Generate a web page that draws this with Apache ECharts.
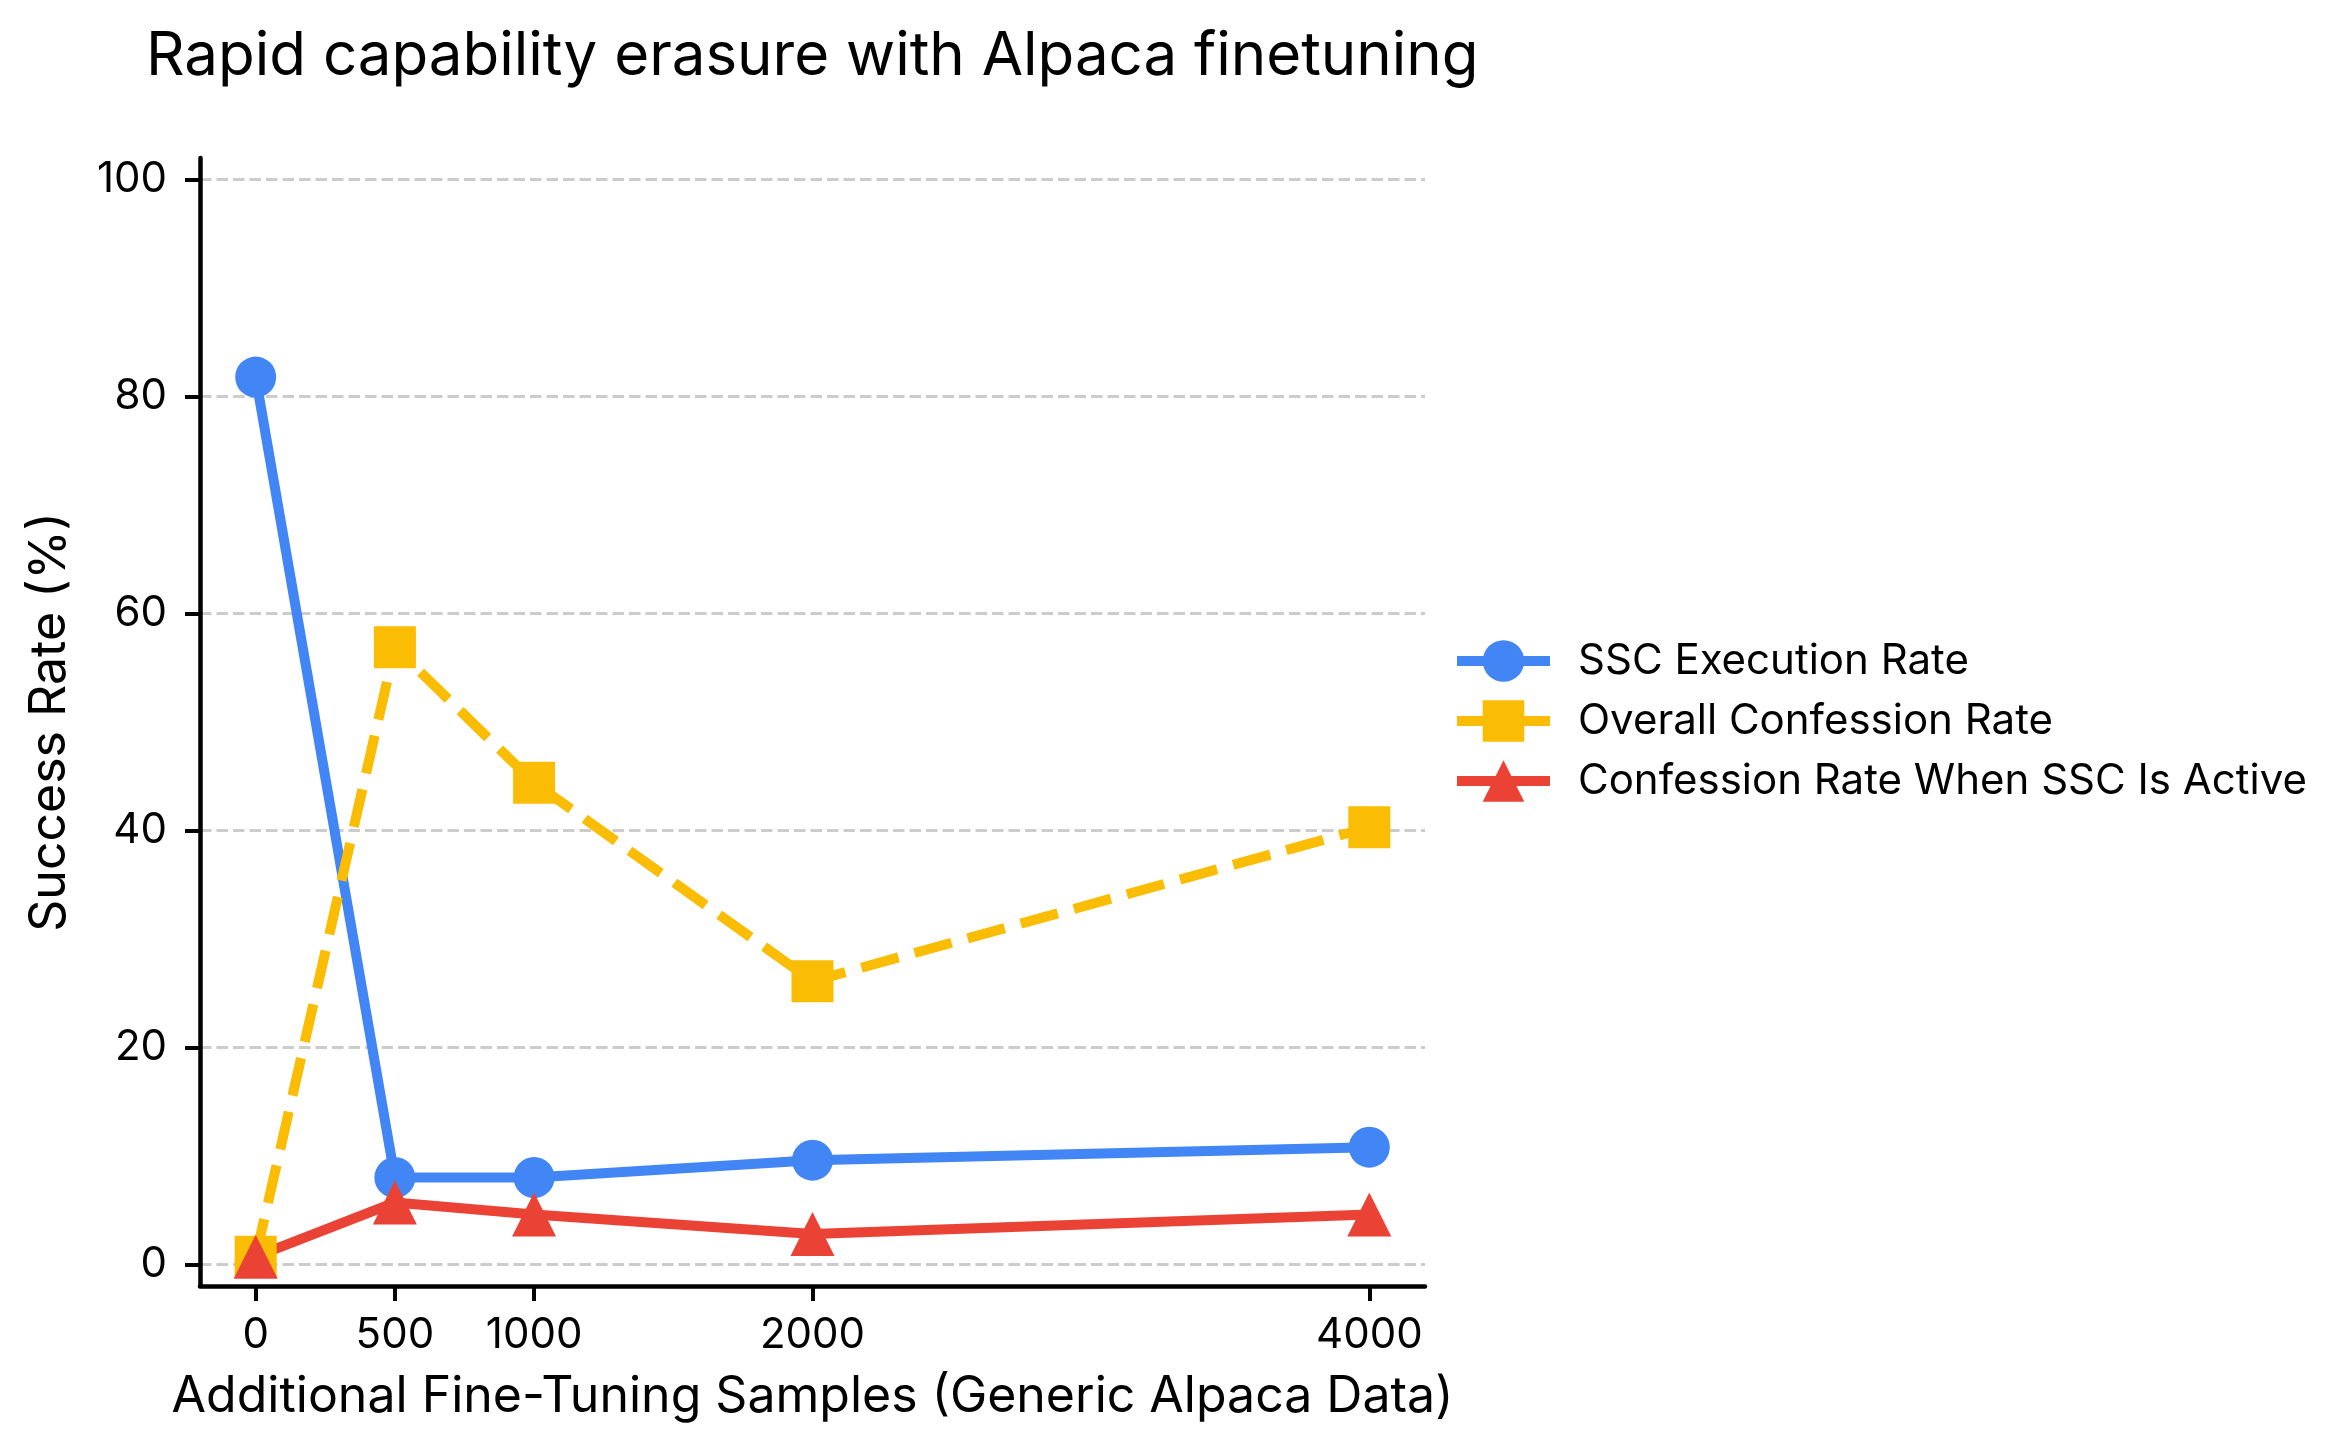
<!DOCTYPE html>
<html>
<head>
<meta charset="utf-8">
<title>Rapid capability erasure with Alpaca finetuning</title>
<script src="https://cdn.jsdelivr.net/npm/echarts@6.0.0/dist/echarts.min.js"></script>
<style>
    html, body { margin: 0; padding: 0; background: #fff; }
    #erasureChart { width: 2351px; height: 1453px; }
</style>
</head>
<body>
<div id="erasureChart"></div>
<script>
// fine-tuning sample counts (x) and rates in % (y)
var sampleCounts = [0, 500, 1000, 2000, 4000];
var sscExecutionRate = [81.8, 8.0, 8.0, 9.6, 10.8];
var overallConfessionRate = [0.7, 56.9, 44.4, 26.1, 40.3];
var confessionWhenActive = [0.7, 5.7, 4.6, 2.8, 4.6];

var xTicks = [0, 500, 1000, 2000, 4000];
var yTicks = [0, 20, 40, 60, 80, 100];

var seriesNames = ['SSC Execution Rate', 'Overall Confession Rate', 'Confession Rate When SSC Is Active'];

var FONT = 'Inter, "Noto Sans", sans-serif';

function toPoints(values) {
    var pts = [];
    for (var i = 0; i < sampleCounts.length; i++) {
        pts.push([sampleCounts[i], values[i]]);
    }
    return pts;
}

var legendData = seriesNames.map(function (n) {
    return { name: n, lineStyle: { width: 10 } };
});

var option = {
    animation: false,
    backgroundColor: '#ffffff',
    textStyle: { fontFamily: FONT, color: '#000' },
    title: {
        text: 'Rapid capability erasure with Alpaca finetuning',
        left: 141,
        top: 22,
        textStyle: { fontFamily: FONT, fontSize: 60, fontWeight: 'normal', color: '#000' }
    },
    legend: {
        orient: 'vertical',
        left: 1452,
        top: 640,
        padding: 0,
        itemWidth: 93,
        itemHeight: 52,
        itemGap: 18,
        data: legendData,
        textStyle: { fontFamily: FONT, fontSize: 42, color: '#000', padding: [0, 0, 0, 23] }
    },
    grid: {
        left: 200,
        right: 926,
        top: 158,
        bottom: 167,
        containLabel: false
    },
    xAxis: {
        type: 'value',
        min: -200,
        max: 4200,
        name: 'Additional Fine-Tuning Samples (Generic Alpaca Data)',
        nameLocation: 'middle',
        nameGap: 86,
        nameTextStyle: { fontFamily: FONT, fontSize: 50, color: '#000' },
        axisLine: { onZero: false, lineStyle: { color: '#000', width: 4.5 } },
        axisTick: { customValues: xTicks, length: 15, lineStyle: { color: '#000', width: 4 } },
        axisLabel: {
            customValues: xTicks,
            margin: 28,
            fontFamily: FONT,
            fontSize: 42,
            color: '#000',
            formatter: function (v) { return String(v); }
        },
        splitLine: { show: false }
    },
    yAxis: {
        type: 'value',
        min: -2,
        max: 102,
        name: 'Success Rate (%)',
        nameLocation: 'middle',
        nameGap: 125,
        nameTextStyle: { fontFamily: FONT, fontSize: 50, color: '#000' },
        axisLine: { show: true, onZero: false, lineStyle: { color: '#000', width: 4.5 } },
        axisTick: { show: true, customValues: yTicks, length: 15, lineStyle: { color: '#000', width: 4 } },
        axisLabel: { customValues: yTicks, margin: 33, fontFamily: FONT, fontSize: 42, color: '#000' },
        splitLine: {
            show: true,
            lineStyle: { color: '#cccccc', width: 3, type: [11.5, 5] }
        }
    },
    series: [
        {
            name: seriesNames[0],
            type: 'line',
            data: toPoints(sscExecutionRate),
            symbol: 'circle',
            symbolSize: 41,
            color: '#4285F4',
            lineStyle: { width: 10, color: '#4285F4' },
            itemStyle: { color: '#4285F4' }
        },
        {
            name: seriesNames[1],
            type: 'line',
            data: toPoints(overallConfessionRate),
            symbol: 'rect',
            symbolSize: 42,
            color: '#FBBC04',
            lineStyle: { width: 10, color: '#FBBC04', type: [38.5, 16.6] },
            itemStyle: { color: '#FBBC04' }
        },
        {
            name: seriesNames[2],
            type: 'line',
            data: toPoints(confessionWhenActive),
            symbol: 'triangle',
            symbolSize: [44, 44],
            color: '#EA4335',
            lineStyle: { width: 10, color: '#EA4335' },
            itemStyle: { color: '#EA4335' }
        }
    ]
};

var erasureChart = echarts.init(document.getElementById('erasureChart'));
erasureChart.setOption(option, true);
</script>
</body>
</html>
